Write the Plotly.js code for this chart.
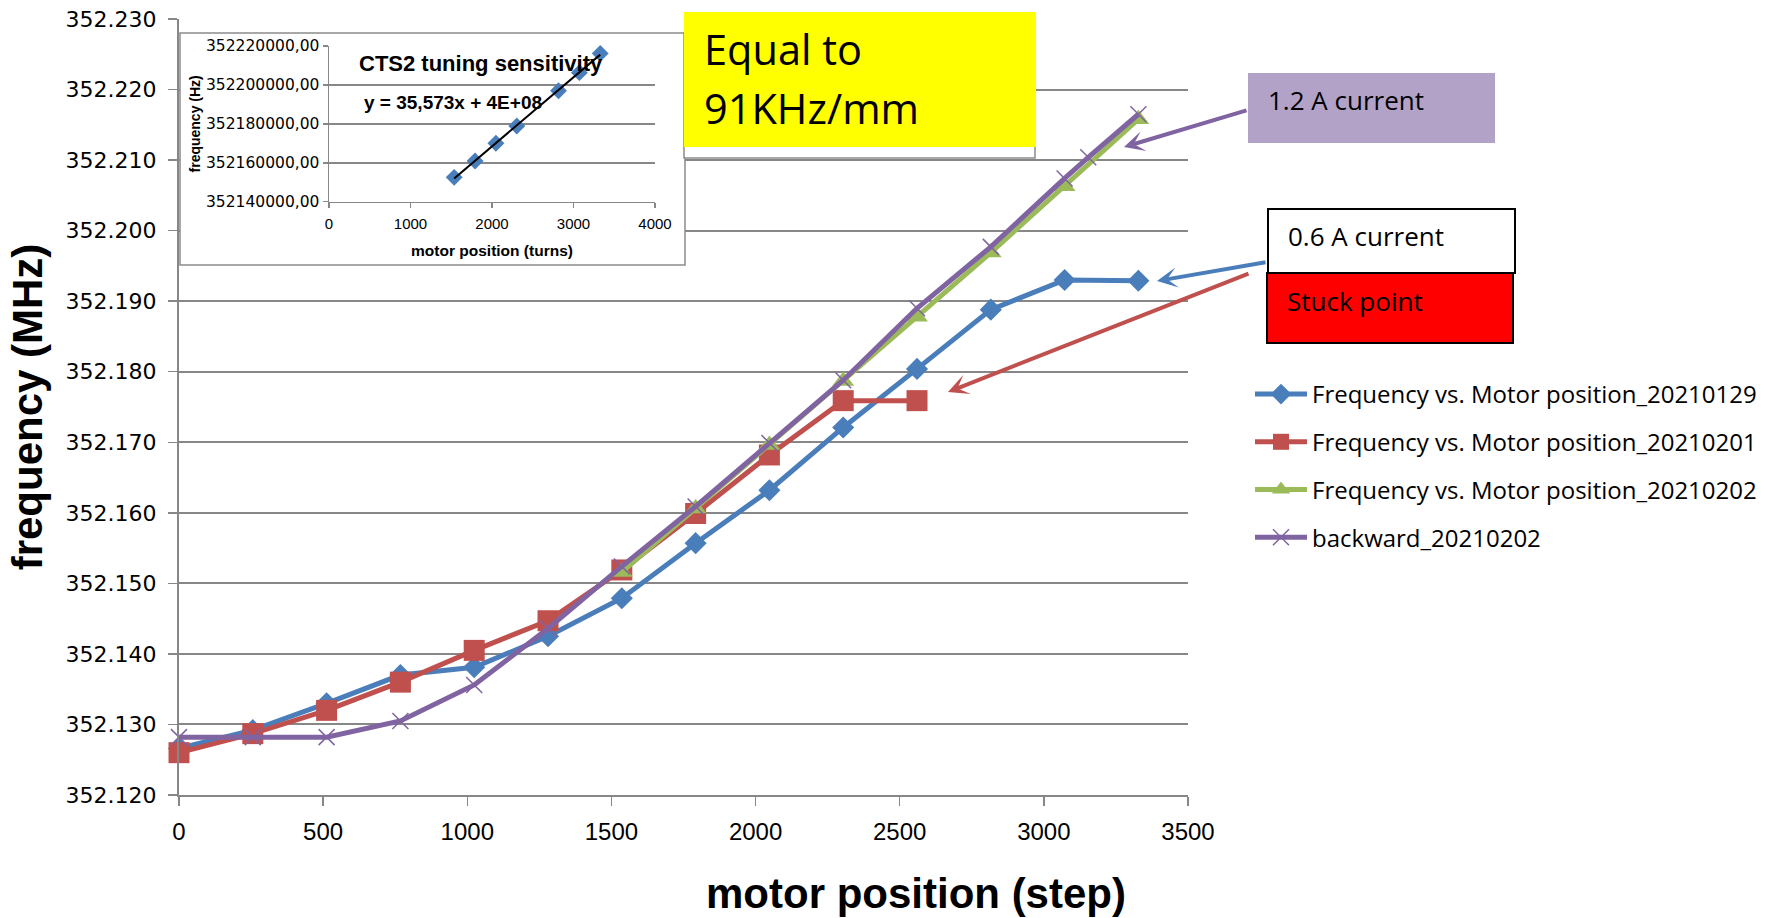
<!DOCTYPE html>
<html><head><meta charset="utf-8">
<script src="https://cdn.plot.ly/plotly-3.0.1.min.js"></script>
<style>html,body{margin:0;padding:0;background:#fff;} #chart{width:1767px;height:918px;}</style>
</head><body><div id="chart"></div>
<script>
// ---- data ----
const steps20210129 = [0,256,512,768,1024,1280,1536,1792,2048,2304,2560,2816,3072,3328];
const freq20210129  = [352.1266,352.1292,352.1330,352.1370,352.1381,352.1425,352.1479,352.1557,352.1632,352.1721,352.1804,352.1888,352.1930,352.1929];
const steps20210201 = [0,256,512,768,1024,1280,1536,1792,2048,2304,2560];
const freq20210201  = [352.1260,352.1287,352.1320,352.1360,352.1405,352.1447,352.1519,352.1599,352.1682,352.1759,352.1759];
const steps20210202 = [1536,1792,2048,2304,2560,2816,3072,3328];
const freq20210202  = [352.1516,352.1606,352.1696,352.1787,352.1878,352.1969,352.2063,352.2158];
const stepsBackward = [0,256,512,768,1024,1280,1536,1792,2048,2304,2560,2816,3072,3154,3328];
const freqBackward  = [352.1282,352.1282,352.1282,352.1305,352.1356,352.1436,352.1524,352.1609,352.1699,352.1788,352.1890,352.1977,352.2074,352.2104,352.2165];
const seriesNames = ['Frequency vs. Motor position_20210129','Frequency vs. Motor position_20210201','Frequency vs. Motor position_20210202','backward_20210202'];

const insetTurns  = [1536,1792,2048,2304,2816,3072,3328];
const insetFreqHz = [352152500,352160900,352170000,352178900,352197000,352206300,352216200];
const insetYTicks = [352140000,352160000,352180000,352200000,352220000];
const insetYTickText = ['352140000,00','352160000,00','352180000,00','352200000,00','352220000,00'];
const insetXTicks = [0,1000,2000,3000,4000];

const insetTitle = 'CTS2 tuning sensitivity';
const insetEquation = 'y = 35,573x + 4E+08';
const xTitle = 'motor position (step)';
const yTitle = 'frequency (MHz)';

// ---- helpers: pixel -> paper ----
const L = 179, R = 1188, T = 19, B = 795;
const px = v => (v - L) / (R - L);
const py = v => (B - v) / (B - T);

// least squares trendline for inset
const n = insetTurns.length;
const mx = insetTurns.reduce((a,b)=>a+b,0)/n;
const my = insetFreqHz.reduce((a,b)=>a+b,0)/n;
let sxy=0, sxx=0;
for (let i=0;i<n;i++){ sxy += (insetTurns[i]-mx)*(insetFreqHz[i]-my); sxx += (insetTurns[i]-mx)**2; }
const slope = sxy/sxx, icpt = my - slope*mx;
const trendX = [insetTurns[0], insetTurns[n-1]];
const trendY = trendX.map(x => icpt + slope*x);

const BLUE='#4A7EBB', RED='#C0504D', GREEN='#9BBB59', PURPLE='#8064A2', GRID='#878787';

const traces = [
  {x:steps20210129, y:freq20210129, name:seriesNames[0], legendgroup:'a', mode:'lines+markers', cliponaxis:false,
   line:{color:BLUE,width:5}, marker:{symbol:'diamond',size:17,color:BLUE}},
  {x:steps20210201, y:freq20210201, name:seriesNames[1], legendgroup:'b', mode:'lines+markers', cliponaxis:false,
   line:{color:RED,width:5}, marker:{symbol:'square',size:21,color:RED}},
  {x:steps20210202, y:freq20210202, name:seriesNames[2], legendgroup:'c', mode:'lines+markers', cliponaxis:false,
   line:{color:GREEN,width:5}, marker:{symbol:'triangle-up',size:19,color:GREEN}},
  {x:stepsBackward, y:freqBackward, name:seriesNames[3], legendgroup:'d', mode:'lines+markers', cliponaxis:false,
   line:{color:PURPLE,width:5}, marker:{symbol:'x-thin-open',size:16,color:PURPLE,line:{color:PURPLE,width:1.5}}},
  // empty trace so the white inset panel (x2/y2) exists and masks the main gridlines
  {x:[], y:[], xaxis:'x2', yaxis:'y2', mode:'markers', showlegend:false},
  {x:insetTurns, y:insetFreqHz, xaxis:'x3', yaxis:'y3', mode:'markers', showlegend:false, cliponaxis:false,
   marker:{symbol:'diamond',size:13,color:BLUE}},
  {x:trendX, y:trendY, xaxis:'x3', yaxis:'y3', mode:'lines', showlegend:false, cliponaxis:false,
   line:{color:'#000',width:2}}
];

const tf = (fam,size,extra) => Object.assign({family:fam,size:size,color:'#000'}, extra||{});

const layout = {
  width:1767, height:918,
  margin:{l:L, r:1767-R, t:T, b:918-B, autoexpand:false},
  paper_bgcolor:'#fff', plot_bgcolor:'#fff',
  showlegend:true,
  legend:{x:px(1250), y:py(372), xanchor:'left', yanchor:'top', font:tf('Open Sans',24),
          tracegroupgap:13.5, itemwidth:52, bgcolor:'rgba(0,0,0,0)', borderwidth:0},
  xaxis:{range:[0,3500], tick0:0, dtick:500, ticks:'outside', ticklen:9, tickwidth:1.5, tickcolor:GRID,
         showline:true, linecolor:GRID, linewidth:2, showgrid:false, zeroline:false, ticklabelstandoff:5,
         tickfont:tf('Liberation Sans',24)},
  yaxis:{range:[352.12,352.23], tick0:352.12, dtick:0.01, tickformat:'.3f', ticks:'outside', ticklen:9, tickwidth:1.5, tickcolor:GRID,
         showline:true, linecolor:GRID, linewidth:2, showgrid:true, gridcolor:GRID, gridwidth:2, zeroline:false,
         ticklabelstandoff:7, tickfont:tf('DejaVu Sans',22),
         title:{text:yTitle, font:tf('Liberation Sans',42,{weight:700}), standoff:10}},
  xaxis2:{domain:[px(180),px(685)], anchor:'y2', range:[0,1], visible:false, fixedrange:true},
  yaxis2:{domain:[py(265),py(33)], anchor:'x2', range:[0,1], visible:false, fixedrange:true},
  xaxis3:{domain:[px(329),px(655)], anchor:'y3', range:[0,4000], tickvals:insetXTicks, ticks:'outside', ticklen:5, tickwidth:1.5, tickcolor:GRID,
          showline:true, linecolor:GRID, linewidth:1.5, showgrid:false, zeroline:false, ticklabelstandoff:3,
          tickfont:tf('Liberation Sans',15),
          title:{text:'motor position (turns)', font:tf('Liberation Sans',15.5,{weight:700}), standoff:14}},
  yaxis3:{domain:[py(201.7),py(46)], anchor:'x3', range:[352140000,352220000], tickvals:insetYTicks, ticktext:insetYTickText,
          ticks:'outside', ticklen:5, tickwidth:1.5, tickcolor:GRID,
          showline:true, linecolor:GRID, linewidth:1.5, showgrid:true, gridcolor:GRID, gridwidth:1.5, zeroline:false,
          tickfont:tf('DejaVu Sans',15.5),
          title:{text:'frequency (Hz)', font:tf('Liberation Sans',14,{weight:700}), standoff:2}},
  shapes:[
    {type:'rect', xref:'paper', yref:'paper', layer:'above', x0:px(180), x1:px(685), y0:py(265), y1:py(33),
     line:{color:'#8c8c8c', width:1.5}},
    {type:'rect', xref:'paper', yref:'paper', layer:'above', x0:px(684), x1:px(1035), y0:py(158), y1:py(33),
     fillcolor:'#fff', line:{color:'#8c8c8c', width:1.5}},
    {type:'rect', xref:'paper', yref:'paper', layer:'above', x0:px(684), x1:px(1036), y0:py(147), y1:py(12),
     fillcolor:'#FFFF00', line:{width:0}},
    {type:'rect', xref:'paper', yref:'paper', layer:'above', x0:px(1248), x1:px(1495), y0:py(143), y1:py(73),
     fillcolor:'#B2A2C7', line:{width:0}},
    {type:'rect', xref:'paper', yref:'paper', layer:'above', x0:px(1268), x1:px(1515), y0:py(273), y1:py(209),
     fillcolor:'#fff', line:{color:'#000', width:2}},
    {type:'rect', xref:'paper', yref:'paper', layer:'above', x0:px(1267), x1:px(1513), y0:py(343), y1:py(273),
     fillcolor:'#FF0000', line:{color:'#000', width:2}}
  ],
  annotations:[
    {text:xTitle, xref:'paper', yref:'paper', x:px(916), y:py(893), xanchor:'center', yanchor:'middle', showarrow:false,
     font:tf('Liberation Sans',42,{weight:700})},
    {text:insetTitle, xref:'paper', yref:'paper', x:px(481), y:py(63), xanchor:'center', yanchor:'middle', showarrow:false,
     font:tf('Liberation Sans',22,{weight:700})},
    {text:insetEquation, xref:'paper', yref:'paper', x:px(452.5), y:py(103), xanchor:'center', yanchor:'middle', showarrow:false,
     font:tf('Liberation Sans',19,{weight:700})},
    {text:'Equal to', xref:'paper', yref:'paper', x:px(702), y:py(49.5), xanchor:'left', yanchor:'middle', showarrow:false,
     font:tf('Open Sans',41.5)},
    {text:'91KHz/mm', xref:'paper', yref:'paper', x:px(702), y:py(107.5), xanchor:'left', yanchor:'middle', showarrow:false,
     font:tf('Open Sans',41.5)},
    {text:'1.2 A current', xref:'paper', yref:'paper', x:px(1266), y:py(100.5), xanchor:'left', yanchor:'middle', showarrow:false,
     font:tf('Open Sans',26)},
    {text:'0.6 A current', xref:'paper', yref:'paper', x:px(1286), y:py(235.5), xanchor:'left', yanchor:'middle', showarrow:false,
     font:tf('Open Sans',26)},
    {text:'Stuck point', xref:'paper', yref:'paper', x:px(1285), y:py(301), xanchor:'left', yanchor:'middle', showarrow:false,
     font:tf('Open Sans',26)},
    {text:'', xref:'paper', yref:'paper', x:px(1124), y:py(147), ax:124, ay:-37, showarrow:true,
     arrowhead:3, arrowsize:0.85, arrowwidth:4, arrowcolor:PURPLE, standoff:0},
    {text:'', xref:'paper', yref:'paper', x:px(1157), y:py(281), ax:110, ay:-19, showarrow:true,
     arrowhead:3, arrowsize:0.85, arrowwidth:4, arrowcolor:BLUE, standoff:0},
    {text:'', xref:'paper', yref:'paper', x:px(948), y:py(392), ax:302, ay:-119, showarrow:true,
     arrowhead:3, arrowsize:0.85, arrowwidth:4, arrowcolor:RED, standoff:0}
  ]
};

Plotly.newPlot('chart', traces, layout, {staticPlot:true, displayModeBar:false});
</script></body></html>
